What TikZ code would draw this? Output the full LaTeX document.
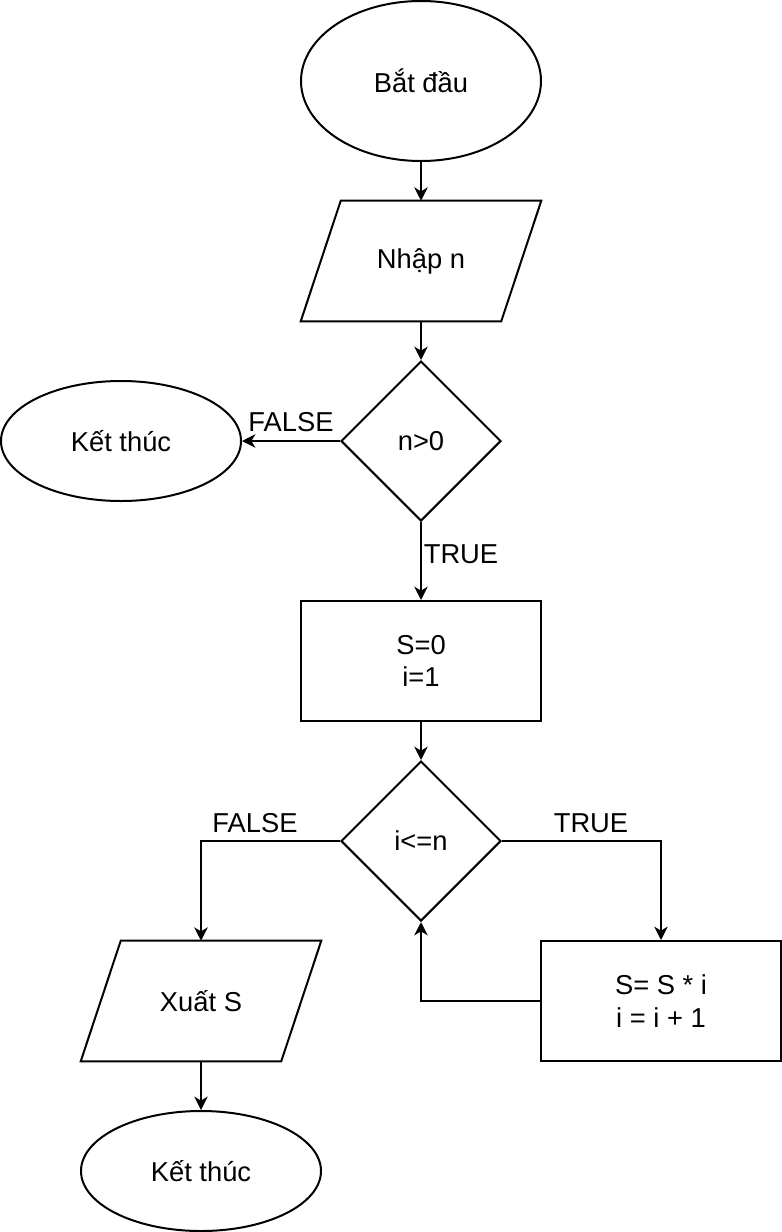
\documentclass[tikz,border=0pt]{standalone}
\usepackage{fontspec}
\setmainfont{Liberation Sans}
\usetikzlibrary{shapes.geometric,arrows.meta,calc}
\begin{document}
\begin{tikzpicture}[x=0.75pt,y=-0.75pt,
  every node/.style={font=\fontsize{20.5}{24.5}\selectfont, align=center, inner sep=0pt},
  line/.style={line width=1.5pt},
  arr/.style={line width=1.5pt,-{Stealth[length=10pt,width=10pt,inset=3pt]}},
  term/.style={ellipse, draw, line width=1.5pt, minimum width=180pt},
  proc/.style={rectangle, draw, line width=1.5pt, minimum width=180pt, minimum height=90pt},
  io/.style={rectangle, minimum width=180pt, minimum height=90pt},
  dec/.style={diamond, draw, line width=1.5pt, aspect=1, minimum width=120pt, minimum height=120pt},
  lbl/.style={font=\fontsize{20.5}{24.5}\selectfont}]
\useasboundingbox (0,0) rectangle (782,1232);
\node[term, minimum height=120pt] (start) at (421,81) {Bắt đầu};
\node[io] (nhap) at (421,261) {Nhập n};
\draw[line] ($(nhap.north west)+(40,0)$) -- (nhap.north east) -- ($(nhap.south east)+(-40,0)$) -- (nhap.south west) -- cycle;
\node[dec] (d1) at (421,441) {n>0};
\node[term, minimum height=90pt] (end1) at (121,441) {Kết thúc};
\node[proc] (init) at (421,661) {S=0\\i=1};
\node[dec] (d2) at (421,841) {i<=n};
\node[io] (xuat) at (201,1001) {Xuất S};
\draw[line] ($(xuat.north west)+(40,0)$) -- (xuat.north east) -- ($(xuat.south east)+(-40,0)$) -- (xuat.south west) -- cycle;
\node[proc] (loop) at (661,1001) {S= S * i\\i = i + 1};
\node[term, minimum height=90pt] (end2) at (201,1171) {Kết thúc};

\draw[arr] (start.south) -- (nhap.north);
\draw[arr] (nhap.south) -- (d1.north);
\draw[arr] (d1.west) -- (end1.east);
\draw[arr] (d1.south) -- (init.north);
\draw[arr] (init.south) -- (d2.north);
\draw[arr] (d2.west) -| (xuat.north);
\draw[arr] (d2.east) -| (loop.north);
\draw[arr] (loop.west) -| (d2.south);
\draw[arr] (xuat.south) -- (end2.north);

\node[lbl] (lf1) at (291,422) {FALSE};
\node[lbl] (lt1) at (461,554) {TRUE};
\node[lbl] (lf2) at (255,823) {FALSE};
\node[lbl] (lt2) at (591,823) {TRUE};
\end{tikzpicture}
\end{document}
